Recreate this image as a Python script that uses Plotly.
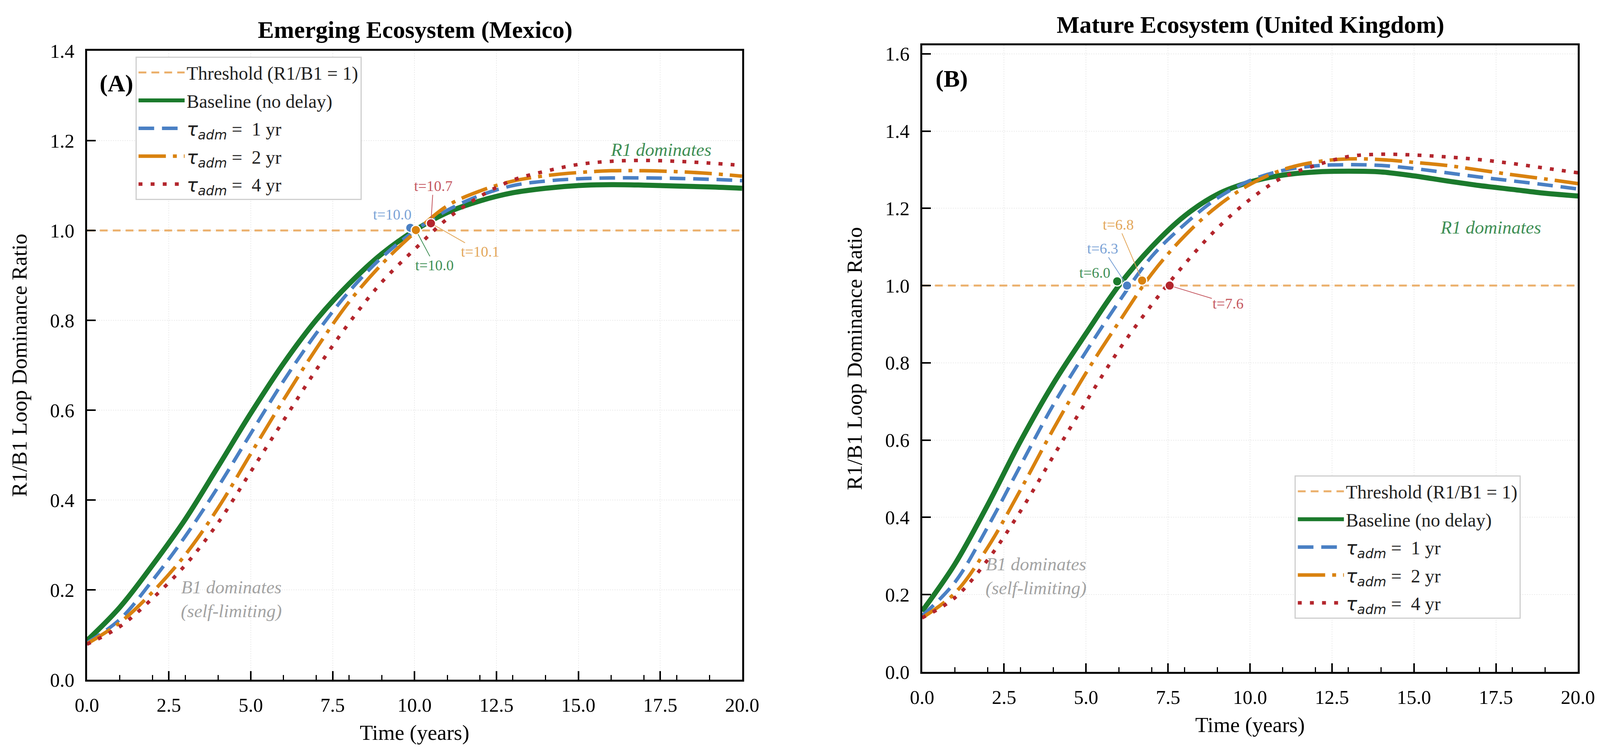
import plotly.graph_objects as go

# time axis (years), shared by both panels
t = list(range(0, 21))

# Panel A - Emerging ecosystem (Mexico): R1/B1 loop dominance ratio
mx_base = [0.087, 0.161, 0.255, 0.357, 0.474, 0.593, 0.704, 0.801, 0.881, 0.948, 1.000,
           1.040, 1.066, 1.084, 1.094, 1.100, 1.102, 1.101, 1.099, 1.097, 1.094]
mx_tau1 = [0.082, 0.134, 0.221, 0.319, 0.429, 0.548, 0.665, 0.771, 0.864, 0.940, 0.999,
           1.045, 1.078, 1.100, 1.110, 1.115, 1.117, 1.117, 1.116, 1.114, 1.111]
mx_tau2 = [0.080, 0.127, 0.195, 0.278, 0.382, 0.503, 0.623, 0.737, 0.841, 0.925, 0.995,
           1.055, 1.088, 1.110, 1.122, 1.129, 1.133, 1.133, 1.131, 1.127, 1.121]
mx_tau4 = [0.079, 0.118, 0.181, 0.255, 0.349, 0.463, 0.577, 0.690, 0.794, 0.885, 0.958,
           1.026, 1.076, 1.112, 1.132, 1.147, 1.154, 1.156, 1.154, 1.150, 1.145]

# Panel B - Mature ecosystem (United Kingdom)
uk_base = [0.157, 0.279, 0.432, 0.597, 0.746, 0.876, 1.000, 1.100, 1.180, 1.236, 1.268,
           1.286, 1.294, 1.296, 1.294, 1.284, 1.271, 1.259, 1.249, 1.239, 1.232]
uk_tau1 = [0.145, 0.232, 0.375, 0.534, 0.691, 0.829, 0.958, 1.075, 1.158, 1.226, 1.272,
           1.298, 1.310, 1.313, 1.311, 1.303, 1.292, 1.281, 1.271, 1.261, 1.250]
uk_tau2 = [0.140, 0.204, 0.322, 0.471, 0.628, 0.774, 0.905, 1.030, 1.128, 1.205, 1.262,
           1.300, 1.320, 1.328, 1.326, 1.319, 1.311, 1.299, 1.287, 1.276, 1.264]
uk_tau4 = [0.140, 0.192, 0.290, 0.416, 0.558, 0.699, 0.833, 0.950, 1.055, 1.148, 1.223,
           1.280, 1.311, 1.334, 1.340, 1.338, 1.333, 1.326, 1.316, 1.304, 1.292]

threshold = 1.0

# crossing points (baseline, tau=1, tau=2, tau=4)
mx_cross_t = [10.0, 9.87, 10.04, 10.5]
mx_cross_y = [1.0, 1.006, 1.001, 1.016]
uk_cross_t = [5.95, 6.25, 6.71, 7.55]
uk_cross_y = [1.011, 1.0, 1.013, 1.0]
mx_cross_labels = ["t=10.0", "t=10.0", "t=10.1", "t=10.7"]
uk_cross_labels = ["t=6.0", "t=6.3", "t=6.8", "t=7.6"]

FONT = "Liberation Serif"
GREEN, BLUE, ORANGE, RED = "#1b7a2c", "#4a80c4", "#d9820f", "#b3262d"
LABEL_COL = ["#3f8f55", "#7aa2d6", "#e3a75a", "#c55860"]
THR_COL = "#ebb06c"


def tau(n):
    return ("<span style='font-family:DejaVu Sans'><i>τ</i><sub><i>adm</i></sub></span>"
            f" =  {n} yr")


styles = [
    ("Baseline (no delay)", GREEN, 13, "solid"),
    (tau(1), BLUE, 9, "40px,20px"),
    (tau(2), ORANGE, 9, "70px,18px,10px,18px"),
    (tau(4), RED, 9, "10px,21px"),
]

fig = go.Figure()

panels = [
    ("x", "y", "legend", "a", [mx_base, mx_tau1, mx_tau2, mx_tau4], mx_cross_t, mx_cross_y),
    ("x2", "y2", "legend2", "b", [uk_base, uk_tau1, uk_tau2, uk_tau4], uk_cross_t, uk_cross_y),
]

for xa, ya, leg, grp, curves, ct, cy in panels:
    fig.add_trace(go.Scatter(
        x=[t[0], t[-1]], y=[threshold, threshold], mode="lines",
        name="Threshold (R1/B1 = 1)", line=dict(color=THR_COL, width=5, dash="20px,13px"),
        xaxis=xa, yaxis=ya, legend=leg, legendgroup=grp + "thr"
    ))
    for k, ((name, col, w, dash), vals) in enumerate(zip(styles, curves)):
        fig.add_trace(go.Scatter(
            x=t, y=vals, mode="lines", name=name,
            line=dict(color=col, width=w, dash=dash, shape="spline", smoothing=1.0),
            xaxis=xa, yaxis=ya, legend=leg, legendgroup=grp + str(k)
        ))
    for i, (name, col, w, dash) in enumerate(styles):
        fig.add_trace(go.Scatter(
            x=[ct[i]], y=[cy[i]], mode="markers", showlegend=False,
            marker=dict(color=col, size=24, line=dict(color="white", width=3)),
            xaxis=xa, yaxis=ya
        ))

annotations = [
    dict(text="<b>Emerging Ecosystem (Mexico)</b>", x=0.2587, y=0.9638, xref="paper",
         yref="paper", xanchor="center", yanchor="middle", showarrow=False,
         font=dict(size=62, color="black")),
    dict(text="<b>Mature Ecosystem (United Kingdom)</b>", x=0.7825, y=0.9706, xref="paper",
         yref="paper", xanchor="center", yanchor="middle", showarrow=False,
         font=dict(size=62, color="black")),
    dict(text="<b>(A)</b>", x=0.9, y=1.327, xref="x", yref="y", showarrow=False,
         font=dict(size=62, color="black")),
    dict(text="<b>(B)</b>", x=0.91, y=1.536, xref="x2", yref="y2", showarrow=False,
         font=dict(size=62, color="black")),
    dict(text="<i>R1 dominates</i>", x=17.52, y=1.18, xref="x", yref="y", showarrow=False,
         font=dict(size=47, color="#3f8f55")),
    dict(text="<i>R1 dominates</i>", x=17.34, y=1.151, xref="x2", yref="y2", showarrow=False,
         font=dict(size=47, color="#3f8f55")),
    dict(text="<i>B1 dominates<br>(self-limiting)</i>", x=4.4, y=0.18, xref="x", yref="y",
         showarrow=False, font=dict(size=47, color="#a3a3a3")),
    dict(text="<i>B1 dominates<br>(self-limiting)</i>", x=3.47, y=0.248, xref="x2", yref="y2",
         showarrow=False, font=dict(size=47, color="#a3a3a3")),
]

# crossing labels: (label index, text position, marker index it points to or None)
mx_label_pos = [(0, 10.61, 0.923, 2), (1, 9.32, 1.036, None), (2, 12.01, 0.953, 3),
                (3, 10.57, 1.099, 3)]
uk_label_pos = [(0, 5.27, 1.033, None), (1, 5.51, 1.096, 1), (2, 5.98, 1.158, 2),
                (3, 9.33, 0.954, 3)]

for xr, yr, labels, pos, ct, cy in [("x", "y", mx_cross_labels, mx_label_pos, mx_cross_t, mx_cross_y),
                                    ("x2", "y2", uk_cross_labels, uk_label_pos, uk_cross_t, uk_cross_y)]:
    for i, lx, ly, target in pos:
        if target is None:
            annotations.append(dict(text=labels[i], x=lx, y=ly, xref=xr, yref=yr,
                                    showarrow=False, font=dict(size=38, color=LABEL_COL[i])))
        else:
            annotations.append(dict(text=labels[i], x=ct[target], y=cy[target], xref=xr, yref=yr,
                                    ax=lx, ay=ly, axref=xr, ayref=yr, showarrow=True,
                                    arrowhead=0, arrowwidth=2, arrowcolor=LABEL_COL[i],
                                    standoff=12, font=dict(size=38, color=LABEL_COL[i])))

axis_common = dict(
    showline=True, linewidth=5, linecolor="black", mirror=True,
    ticks="inside", ticklen=22, tickwidth=4, tickcolor="black",
    showgrid=True, gridcolor="#ececec", gridwidth=2, griddash="dot",
    zeroline=False, tickfont=dict(size=50, color="black"), tickformat=".1f",
    ticklabelstandoff=17, automargin=False,
)
xaxis_common = dict(axis_common, range=[0, 20], dtick=2.5,
                    minor=dict(dtick=1, ticks="inside", ticklen=12, tickwidth=3,
                               tickcolor="black", showgrid=False),
                    title=dict(text="Time (years)", font=dict(size=55, color="black"), standoff=25))
yaxis_title = dict(text="R1/B1 Loop Dominance Ratio", font=dict(size=55, color="black"),
                   standoff=43)

legend_common = dict(
    bgcolor="white", bordercolor="#cfcfcf", borderwidth=3,
    font=dict(size=48, color="#222222", family=FONT), itemwidth=118,
    tracegroupgap=6, xanchor="left", yanchor="top",
)

# the page viewport is 4096 px wide with an 8 px body margin
fig.update_layout(
    width=4080, height=1904,
    margin=dict(l=0, r=0, t=0, b=0),
    paper_bgcolor="white", plot_bgcolor="white",
    font=dict(family=FONT, color="black"),
    xaxis=dict(xaxis_common, domain=[0.0526, 0.4637], anchor="y"),
    yaxis=dict(axis_common, domain=[0.0903, 0.9359], range=[0, 1.4], dtick=0.2,
               title=yaxis_title, anchor="x"),
    xaxis2=dict(xaxis_common, domain=[0.5766, 0.9881], anchor="y2"),
    yaxis2=dict(axis_common, domain=[0.1008, 0.9433], range=[0, 1.622], dtick=0.2,
                title=yaxis_title, anchor="x2"),
    legend=dict(legend_common, x=0.0830, y=0.9281),
    legend2=dict(legend_common, x=0.8104, y=0.3650),
    annotations=annotations,
)

fig.write_html("out.html")
